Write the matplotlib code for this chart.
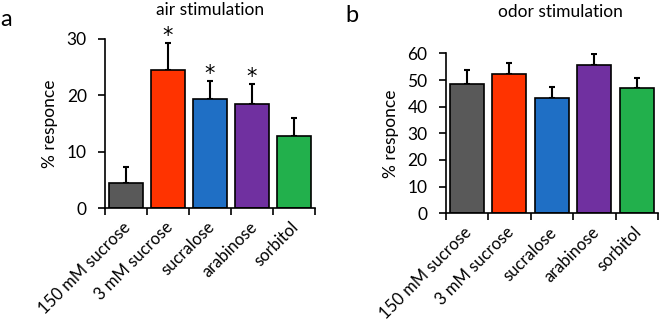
import numpy as np
import matplotlib.pyplot as plt

plt.rcParams['font.family'] = ['Lato', 'DejaVu Sans']

categories = ['150 mM sucrose', '3 mM sucrose', 'sucralose', 'arabinose', 'sorbitol']
colors = ['#595959', '#FF3300', '#1F6FC5', '#7030A0', '#22B04C']

air_mean = [4.5, 24.4, 19.3, 18.4, 12.8]
air_err = [2.7, 4.9, 3.3, 3.6, 3.2]
air_sig = [False, True, True, True, False]

odor_mean = [48.5, 52.2, 43.4, 55.6, 47.1]
odor_err = [5.2, 4.4, 4.1, 4.3, 3.8]

fig = plt.figure(figsize=(6.6, 3.24), dpi=100)
ax1 = fig.add_axes([0.159, 0.358, 0.318, 0.522])
ax2 = fig.add_axes([0.675, 0.342, 0.322, 0.493])


def draw(ax, means, errs, ymax, step):
    x = np.arange(len(means))
    ax.bar(x, means, width=0.8, color=colors, edgecolor='black', linewidth=1.2, zorder=2)
    ax.errorbar(x, means, yerr=[np.zeros(len(errs)), errs], fmt='none',
                ecolor='black', elinewidth=1.5, capsize=2.5, capthick=1.5, zorder=1)
    ax.set_xlim(-0.5, len(means) - 0.5)
    ax.set_ylim(0, ymax)
    ax.set_yticks(np.arange(0, ymax + 1, step))
    ax.set_xticks(np.arange(len(means) + 1) - 0.5)
    ax.set_xticklabels([])
    ax.set_xticks(x + 0.06, minor=True)
    ax.set_xticklabels(categories, minor=True, rotation=45, ha='right', va='center',
                       rotation_mode='anchor', fontsize=12)
    ax.tick_params(axis='x', which='minor', length=0, pad=12)
    ax.tick_params(axis='x', which='major', direction='out', length=5, width=1.2)
    ax.tick_params(axis='y', direction='out', length=5, width=1.2, labelsize=12.5, pad=8)
    for s in ['top', 'right']:
        ax.spines[s].set_visible(False)
    for s in ['left', 'bottom']:
        ax.spines[s].set_linewidth(1.2)
    ax.set_ylabel('% responce', fontsize=12.5, labelpad=6)


draw(ax1, air_mean, air_err, 30, 10)
draw(ax2, odor_mean, odor_err, 60, 10)

for i, sig in enumerate(air_sig):
    if sig:
        ax1.annotate('*', (i, air_mean[i] + air_err[i]), xytext=(0, 5),
                     textcoords='offset points', ha='center', va='center',
                     fontsize=15, family='DejaVu Sans')

fig.text(210 / 660, 1 - 10 / 324, 'air stimulation', fontsize=12.5, ha='center', va='center')
fig.text(560 / 660, 1 - 12 / 324, 'odor stimulation', fontsize=12.5, ha='center', va='center')
fig.text(0.5 / 660, 1 - 19 / 324, 'a', fontsize=17, ha='left', va='center')
fig.text(345 / 660, 1 - 16 / 324, 'b', fontsize=17, ha='left', va='center')

fig.savefig('out.png', dpi=100)
